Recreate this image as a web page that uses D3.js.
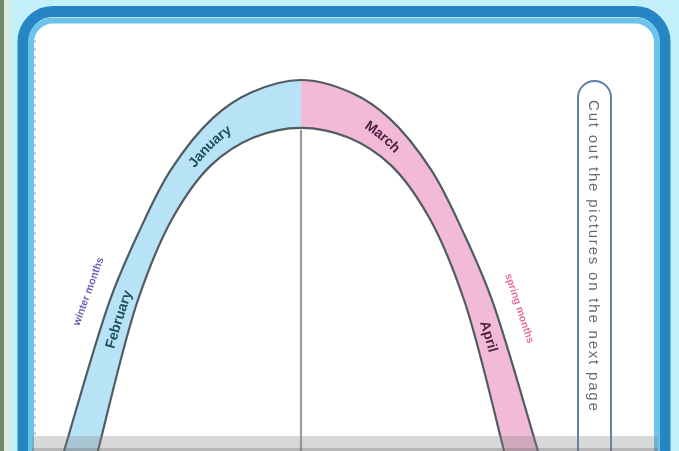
<!DOCTYPE html>
<html>
<head>
<meta charset="utf-8">
<script src="https://cdn.jsdelivr.net/npm/d3@7"></script>
<style>
  body { margin: 0; background: #c4f0fb; }
  svg { display: block; }
</style>
</head>
<body>
<div id="content"></div>
<script>
// arch profile in diagram units: [half-width offset, height], 0 = bottom of page, 100 = top of arch
var outerEdge = [[0,100],[21.5,96.5],[37.1,89.8],[55,75.7],[69,58.2],[80.6,40.7],[100,0],[101.5,-3]];
var innerEdge = [[0,87.1],[20,84.5],[38,77],[54,63],[68.8,40.7],[85.7,0],[87,-3]];

// labels on the band: text, fraction along the arch (left bottom -> right bottom)
var bandLabels = ['February','January','March','April'];
var bandPos = [0.165, 0.385, 0.6, 0.855];
var bandSide = ['left','left','right','right'];

// labels outside the arch
var sideLabels = ['winter months','spring months'];
var sidePos = [0.178, 0.84];

var boxText = 'Cut out the pictures on the next page';

var svg_width = 679, svg_height = 451;
var blueFill = '#b8e3f6', pinkFill = '#f3bad7';
var edgeColor = '#4f5b62';

var svg = d3.select('#content').append('svg')
  .attr('width', svg_width).attr('height', svg_height);

var defs = svg.append('defs');
defs.append('filter').attr('id','soft')
  .append('feGaussianBlur').attr('stdDeviation', 0.55);
defs.append('clipPath').attr('id','clipLeft')
  .append('rect').attr('x',0).attr('y',0).attr('width',301).attr('height',svg_height);
defs.append('clipPath').attr('id','clipRight')
  .append('rect').attr('x',301).attr('y',0).attr('width',svg_width-301).attr('height',svg_height);

var root = svg.append('g').attr('filter','url(#soft)');

// page background and left edge strip
root.append('rect').attr('width',svg_width).attr('height',svg_height).attr('fill','#c4f0fb');
root.append('rect').attr('x',0).attr('y',0).attr('width',4).attr('height',svg_height).attr('fill','#6f8868');
root.append('rect').attr('x',4).attr('y',0).attr('width',6).attr('height',svg_height).attr('fill','#dfe9e2');

// rounded frame
root.append('rect').attr('x',23).attr('y',11.5).attr('width',642).attr('height',500)
  .attr('rx',30).attr('fill','#ffffff').attr('stroke','#2586c4').attr('stroke-width',11);
root.append('rect').attr('x',31).attr('y',20.5).attr('width',626).attr('height',490)
  .attr('rx',22).attr('fill','none').attr('stroke','#6cc4ea').attr('stroke-width',6);

// faint dotted ruler on the left
root.append('line').attr('x1',35).attr('x2',35).attr('y1',40).attr('y2',436)
  .attr('stroke','#cfcfd6').attr('stroke-width',2).attr('stroke-dasharray','3,5');

var x = d3.scaleLinear().domain([-100,100]).range([64,538]);
var y = d3.scaleLinear().domain([0,100]).range([451,80]);

function fullCurve(pts){
  var left = pts.slice().reverse().map(function(p){return [-p[0],p[1]];});
  var right = pts.slice(1);
  return left.concat(right);
}
var outerPts = fullCurve(outerEdge);
var innerPts = fullCurve(innerEdge);

var line = d3.line()
  .x(function(d){return x(d[0]);})
  .y(function(d){return y(d[1]);})
  .curve(d3.curveCatmullRom.alpha(0.5));

var outerD = line(outerPts);
var innerD = line(innerPts.slice().reverse());
var bandD = outerD + 'L' + innerD.slice(1) + 'Z';

root.append('path').attr('d',bandD).attr('fill',blueFill).attr('clip-path','url(#clipLeft)');
root.append('path').attr('d',bandD).attr('fill',pinkFill).attr('clip-path','url(#clipRight)');

var outerPath = root.append('path').attr('d',outerD).attr('fill','none')
  .attr('stroke',edgeColor).attr('stroke-width',2.2);
var innerPath = root.append('path').attr('d',line(innerPts)).attr('fill','none')
  .attr('stroke',edgeColor).attr('stroke-width',2.2);

// centre line
root.append('line').attr('x1',x(0)).attr('x2',x(0)).attr('y1',y(innerEdge[0][1])+2).attr('y2',svg_height)
  .attr('stroke','#9c9c9c').attr('stroke-width',2.2);

// mid line of the band, sampled from both edges
var oNode = outerPath.node(), iNode = innerPath.node();
var oLen = oNode.getTotalLength(), iLen = iNode.getTotalLength();
var midPts = d3.range(0,1.0001,0.01).map(function(t){
  var a = oNode.getPointAtLength(t*oLen), b = iNode.getPointAtLength(t*iLen);
  return [(a.x+b.x)/2,(a.y+b.y)/2];
});
var midD = d3.line().curve(d3.curveCatmullRom)(midPts);
defs.append('path').attr('id','midLine').attr('d',midD);

root.selectAll('.bandLabel')
  .data(bandLabels)
  .enter().append('text')
  .attr('class','bandLabel')
  .attr('font-family','Liberation Sans, Arial, sans-serif')
  .attr('font-weight','bold')
  .attr('font-size',14)
  .attr('dy',5)
  .attr('fill',function(d,i){return bandSide[i]=='left' ? '#1f4e5a' : '#4b2444';})
  .append('textPath')
  .attr('href','#midLine')
  .attr('startOffset',function(d,i){return (bandPos[i]*100)+'%';})
  .attr('text-anchor','middle')
  .text(function(d){return d;});

// labels outside the outer edge
var sideColors = ['#6a62b4','#e4719c'];
sideLabels.forEach(function(label,i){
  var L = sidePos[i]*oLen;
  var p = oNode.getPointAtLength(L);
  var q = oNode.getPointAtLength(Math.min(oLen,L+1));
  var ang = Math.atan2(q.y-p.y,q.x-p.x);
  var nx = Math.sin(ang), ny = -Math.cos(ang);
  var off = 23;
  root.append('text')
    .attr('transform','translate('+(p.x+nx*off)+','+(p.y+ny*off)+') rotate('+(ang*180/Math.PI)+')')
    .attr('text-anchor','middle')
    .attr('dy',3)
    .attr('font-family','Liberation Sans, Arial, sans-serif')
    .attr('font-weight','bold')
    .attr('font-size',10.5)
    .attr('fill',sideColors[i])
    .text(label);
});

// instruction box on the right
root.append('rect').attr('x',578).attr('y',81).attr('width',33).attr('height',420).attr('rx',16.5)
  .attr('fill','#ffffff').attr('stroke','#5f7fa6').attr('stroke-width',2);
root.append('text')
  .attr('transform','translate(594,100) rotate(90)')
  .attr('font-family','Liberation Sans, Arial, sans-serif')
  .attr('font-size',15)
  .attr('letter-spacing',1.8)
  .attr('dy',5.5)
  .attr('fill','#6b6b6b')
  .text(boxText);

// grey shadow strip at the bottom
root.append('rect').attr('x',32).attr('y',436).attr('width',626).attr('height',15)
  .attr('fill','#8a8a8a').attr('opacity',0.33);
root.append('rect').attr('x',32).attr('y',448).attr('width',626).attr('height',3)
  .attr('fill','#666').attr('opacity',0.3);
</script>
</body>
</html>
